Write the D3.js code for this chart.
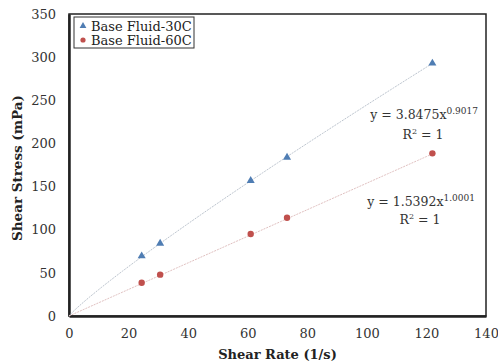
<!DOCTYPE html>
<html><head><meta charset="utf-8">
<script src="https://cdn.jsdelivr.net/npm/d3@7"></script>
<style>body{margin:0;background:#fff}svg{display:block}</style>
</head><body>
<script>
const shearRate = [24.4, 30.6, 61.0, 73.2, 122.0];
const stress30 = [69.5, 84.2, 156.8, 183.9, 292.9];
const stress60 = [38.6, 47.9, 95.0, 113.9, 188.5];
const seriesNames = ["Base Fluid-30C", "Base Fluid-60C"];
const fitCoef = [3.8475, 1.5392];
const fitExp = [0.9017, 1.0001];
const fitExpLabels = ["0.9017", "1.0001"];
const xTicks = [0, 20, 40, 60, 80, 100, 120, 140];
const yTicks = [0, 50, 100, 150, 200, 250, 300, 350];

const W = 498, H = 362;
const m = {l: 69, r: 12, t: 14, b: 46};
const svg = d3.select("body").append("svg").attr("width", W).attr("height", H);
const x = d3.scaleLinear().domain([0, 140]).range([m.l, W - m.r]);
const y = d3.scaleLinear().domain([0, 350]).range([H - m.b, m.t]);
const font = "'DejaVu Serif', serif";

// frame
svg.append("rect").attr("x", x(0)).attr("y", y(350)).attr("width", x(140) - x(0)).attr("height", y(0) - y(350))
  .attr("fill", "none").attr("stroke", "#222").attr("stroke-width", 1.5);

// axes
const xa = svg.append("g").attr("transform", `translate(0,${y(0)})`)
  .call(d3.axisBottom(x).tickValues(xTicks).tickSize(0).tickPadding(13));
const ya = svg.append("g").attr("transform", `translate(${x(0)},0)`)
  .call(d3.axisLeft(y).tickValues(yTicks).tickSize(0).tickPadding(13));
[xa, ya].forEach(a => {
  a.select(".domain").attr("stroke", "#222").attr("stroke-width", 2.5);
  a.selectAll("text").attr("font-family", font).attr("font-size", 13).attr("fill", "#333");
});

// trendlines
const colors = ["#4f7db3", "#c0504d"];
const trendColors = ["#bcc4ce", "#e0c0c0"];
const xs = d3.range(0, 121, 1).concat([shearRate[4]]);
fitCoef.forEach((c, i) => {
  const line = d3.line().x(d => x(d)).y(d => y(c * Math.pow(d, fitExp[i])));
  svg.append("path").attr("d", line(xs)).attr("fill", "none")
    .attr("stroke", trendColors[i]).attr("stroke-width", 1).attr("stroke-dasharray", "2,1");
});

// markers
const tri = d3.symbol().type(d3.symbolTriangle).size(28);
svg.append("g").selectAll("path").data(shearRate).join("path")
  .attr("d", tri).attr("transform", (d, i) => `translate(${x(d)},${y(stress30[i])})`)
  .attr("fill", colors[0]);
svg.append("g").selectAll("circle").data(shearRate).join("circle")
  .attr("cx", d => x(d)).attr("cy", (d, i) => y(stress60[i])).attr("r", 3.2)
  .attr("fill", colors[1]);

// equations
const eqPos = [[478, 119, 423, 139], [475, 206, 420, 224]];
fitCoef.forEach((c, i) => {
  const [ex, ey, rx, ry] = eqPos[i];
  const t = svg.append("text").attr("x", ex).attr("y", ey).attr("text-anchor", "end")
    .attr("font-family", font).attr("font-size", 12.5).attr("fill", "#333");
  t.append("tspan").text(`y = ${c}x`);
  t.append("tspan").attr("dy", -5).attr("font-size", 9).text(fitExpLabels[i]);
  const r = svg.append("text").attr("x", rx).attr("y", ry).attr("text-anchor", "middle")
    .attr("font-family", font).attr("font-size", 12.5).attr("fill", "#333");
  r.append("tspan").text("R");
  r.append("tspan").attr("dy", -5).attr("font-size", 8).text("2");
  r.append("tspan").attr("dy", 5).text(" = 1");
});

// legend
svg.append("rect").attr("x", 74).attr("y", 17).attr("width", 120).attr("height", 31)
  .attr("fill", "#fff").attr("stroke", "#333").attr("stroke-width", 1);
seriesNames.forEach((n, i) => {
  const ly = 26 + i * 14;
  if (i === 0) svg.append("path").attr("d", d3.symbol().type(d3.symbolTriangle).size(20))
    .attr("transform", `translate(83,${ly})`).attr("fill", colors[0]);
  else svg.append("circle").attr("cx", 83).attr("cy", ly).attr("r", 2.6).attr("fill", colors[1]);
  svg.append("text").attr("x", 91).attr("y", ly + 4.5).attr("font-family", font)
    .attr("font-size", 13).attr("fill", "#222").text(n);
});

// axis titles
svg.append("text").attr("x", (x(0) + x(140)) / 2).attr("y", 359).attr("text-anchor", "middle")
  .attr("font-family", font).attr("font-weight", "bold").attr("font-size", 13).attr("fill", "#222")
  .text("Shear Rate (1/s)");
svg.append("text").attr("transform", `translate(22,168) rotate(-90)`).attr("text-anchor", "middle")
  .attr("font-family", font).attr("font-weight", "bold").attr("font-size", 13.5).attr("fill", "#222")
  .text("Shear Stress (mPa)");
</script>
</body></html>
